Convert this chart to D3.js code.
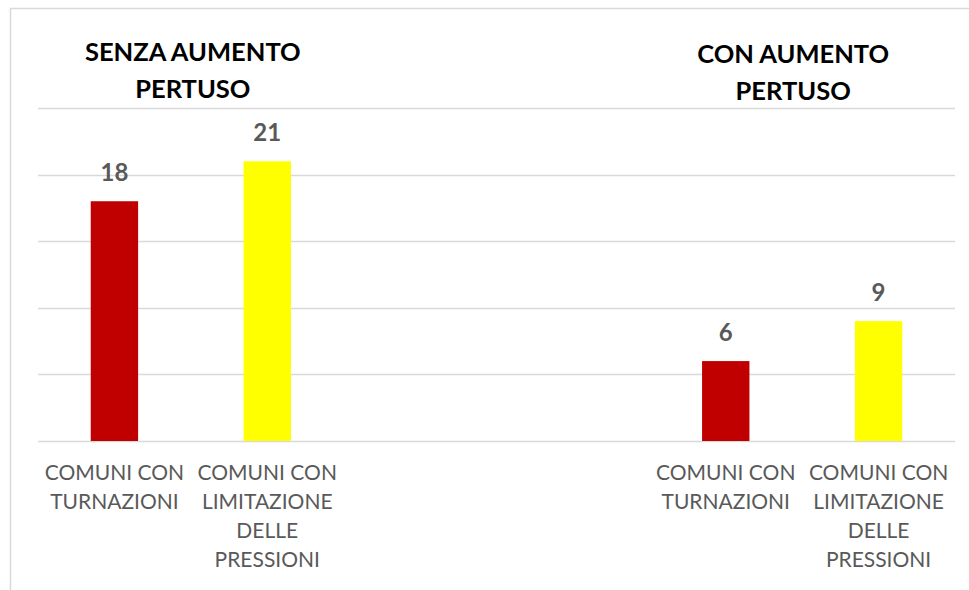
<!DOCTYPE html>
<html>
<head>
<meta charset="utf-8">
<script src="https://cdn.jsdelivr.net/npm/d3@7"></script>
<style>
  html, body { margin: 0; padding: 0; background: #fff; }
  svg { display: block; }
</style>
</head>
<body>
<svg id="chart"></svg>
<script>
// dati del grafico
const groups = ["SENZA AUMENTO PERTUSO", "CON AUMENTO PERTUSO"];
const groupTitleLines = [["SENZA AUMENTO", "PERTUSO"], ["CON AUMENTO", "PERTUSO"]];
const categories = ["COMUNI CON TURNAZIONI", "COMUNI CON LIMITAZIONE DELLE PRESSIONI"];
const categoryLines = [["COMUNI CON", "TURNAZIONI"], ["COMUNI CON", "LIMITAZIONE", "DELLE", "PRESSIONI"]];
const valuesSenza = [18, 21];
const valuesCon = [6, 9];
const yTicks = [0, 5, 10, 15, 20, 25];
const colors = ["#C00000", "#FFFF00"];

// dimensioni svg
const width = 969;
const height = 590;

const MARGINS = { top: 108, bottom: 149, left: 38, right: 14 };

const svg = d3.select("#chart").attr("width", width).attr("height", height);

// bordo del grafico (esce dal riquadro a destra e in basso)
svg.append("rect")
  .attr("x", 10.5).attr("y", 8.5)
  .attr("width", width + 20).attr("height", height + 20)
  .attr("fill", "none")
  .attr("stroke", "#D9D9D9")
  .attr("stroke-width", 1.5);

// 6 posizioni: 2 per gruppo, 2 vuote in mezzo
const slots = ["senza-0", "senza-1", "vuoto-0", "vuoto-1", "con-0", "con-1"];
const bars = [
  ...valuesSenza.map((v, i) => ({ slot: "senza-" + i, value: v, cat: i })),
  ...valuesCon.map((v, i) => ({ slot: "con-" + i, value: v, cat: i })),
];

const x = d3.scaleBand()
  .domain(slots)
  .range([MARGINS.left, width - MARGINS.right])
  .padding(0);

const y = d3.scaleLinear()
  .domain([0, 25])
  .range([height - MARGINS.bottom, MARGINS.top]);

const barW = x.bandwidth() * 0.31;

// griglia
svg.append("g")
  .selectAll("line")
  .data(yTicks)
  .join("line")
  .attr("x1", MARGINS.left)
  .attr("x2", width - MARGINS.right)
  .attr("y1", d => Math.round(y(d)) + 0.5)
  .attr("y2", d => Math.round(y(d)) + 0.5)
  .attr("stroke", "#D9D9D9")
  .attr("stroke-width", 1.3);

// barre
svg.append("g")
  .selectAll("rect")
  .data(bars)
  .join("rect")
  .attr("x", d => x(d.slot) + x.bandwidth() / 2 - barW / 2)
  .attr("y", d => y(d.value))
  .attr("width", barW)
  .attr("height", d => y(0) - y(d.value))
  .attr("fill", d => colors[d.cat]);

// etichette dei valori
svg.append("g")
  .selectAll("text")
  .data(bars)
  .join("text")
  .attr("x", d => x(d.slot) + x.bandwidth() / 2)
  .attr("y", d => y(d.value) - 20)
  .attr("text-anchor", "middle")
  .attr("font-family", "Lato, sans-serif")
  .attr("font-weight", "bold")
  .attr("font-size", 24)
  .attr("fill", "#595959")
  .text(d => d.value);

// etichette delle categorie
const catLabels = svg.append("g")
  .selectAll("text")
  .data(bars)
  .join("text")
  .attr("text-anchor", "middle")
  .attr("font-family", "Lato, sans-serif")
  .attr("font-size", 21)
  .attr("fill", "#595959");

catLabels.selectAll("tspan")
  .data(d => categoryLines[d.cat].map(t => ({ t, d })))
  .join("tspan")
  .attr("x", o => x(o.d.slot) + x.bandwidth() / 2)
  .attr("y", (o, i) => 480 + i * 29)
  .text(o => o.t);

// titoli dei gruppi
const titleOffsets = [2, -9];
const titleBase = [61, 63];
const titles = svg.append("g")
  .selectAll("text")
  .data(groups)
  .join("text")
  .attr("text-anchor", "middle")
  .attr("font-family", "Lato, sans-serif")
  .attr("font-weight", "bold")
  .attr("font-size", 25.5)
  .attr("fill", "#000");

titles.selectAll("tspan")
  .data((g, gi) => groupTitleLines[gi].map(t => ({ t, gi })))
  .join("tspan")
  .attr("x", o => {
    const pre = o.gi === 0 ? "senza-" : "con-";
    const cx = (x(pre + 0) + x(pre + 1) + x.bandwidth()) / 2;
    return cx + titleOffsets[o.gi];
  })
  .attr("y", (o, i) => titleBase[o.gi] + i * 37)
  .text(o => o.t);
</script>
</body>
</html>
